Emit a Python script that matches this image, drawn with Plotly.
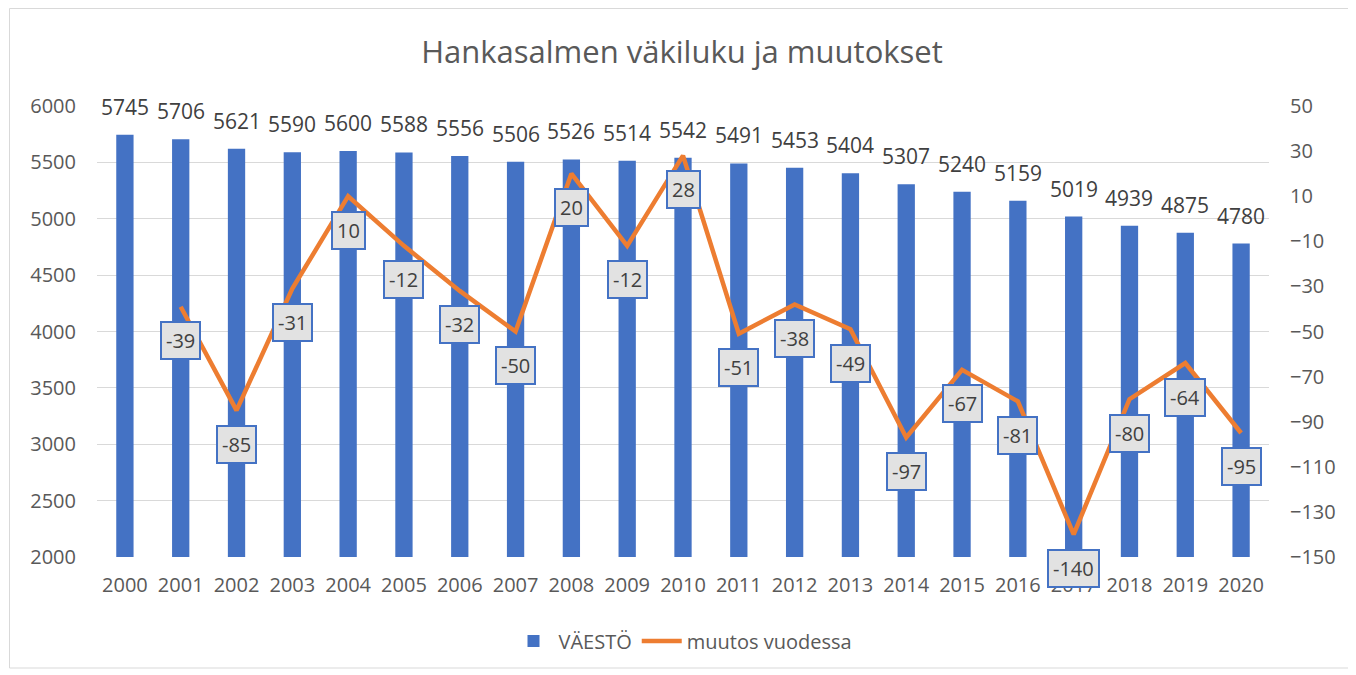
import plotly.graph_objects as go

years = list(range(2000, 2021))
population = [5745, 5706, 5621, 5590, 5600, 5588, 5556, 5506, 5526, 5514, 5542,
              5491, 5453, 5404, 5307, 5240, 5159, 5019, 4939, 4875, 4780]
change_years = years[1:]
change = [-39, -85, -31, 10, -12, -32, -50, 20, -12, 28,
          -51, -38, -49, -97, -67, -81, -140, -80, -64, -95]

left_ticks = [2000, 2500, 3000, 3500, 4000, 4500, 5000, 5500, 6000]
right_ticks = [50, 30, 10, -10, -30, -50, -70, -90, -110, -130, -150]

OFF = 8  # page body offset
W, H = 1356 - OFF, 675 - OFF
ML, MT = 97 - OFF, 106 - OFF
MR = W - (1269 - OFF)
MB = H - (557 - OFF)
pw, ph = W - ML - MR, H - MT - MB

FONT = "Open Sans"
GRAY = "#595959"

fig = go.Figure()
fig.add_trace(go.Bar(
    x=years, y=population, name="VÄESTÖ",
    marker=dict(color="#4472c4", line=dict(width=0)),
    yaxis="y",
))
fig.add_trace(go.Scatter(
    x=change_years, y=change, name="muutos vuodessa",
    mode="lines", line=dict(color="#ed7d31", width=4.5),
    yaxis="y2",
))

annotations = []
for x, v in zip(years, population):
    annotations.append(dict(
        x=x, y=v, xref="x", yref="y", text=str(v), showarrow=False,
        yanchor="bottom", yshift=12,
        font=dict(family=FONT, size=21, color="#404040"),
    ))
for x, v in zip(change_years, change):
    annotations.append(dict(
        x=x, y=v, xref="x", yref="y2", text=str(v), showarrow=False,
        yanchor="middle", yshift=-34,
        font=dict(family=FONT, size=20, color="#404040"),
        bgcolor="#e2e2e2", bordercolor="#4472c4", borderwidth=2, borderpad=4,
    ))

shapes = [dict(
    type="rect", xref="paper", yref="paper",
    x0=(1.5 - ML) / pw, x1=(1351 - OFF - ML) / pw,
    y0=(H - MB - (668 - OFF)) / ph, y1=(H - MB - 0.5) / ph,
    line=dict(color="#d9d9d9", width=1), fillcolor="rgba(0,0,0,0)", layer="below",
)]

fig.update_layout(
    width=W, height=H,
    margin=dict(l=ML, r=MR, t=MT, b=MB),
    paper_bgcolor="white", plot_bgcolor="white",
    title=dict(text="Hankasalmen väkiluku ja muutokset", x=0.5, xanchor="center",
               y=1 - (52 - OFF) / H, yanchor="middle",
               font=dict(family=FONT, size=31, color=GRAY)),
    bargap=0.69,
    xaxis=dict(range=[1999.5, 2020.5], tickvals=years,
               tickfont=dict(family=FONT, size=20, color=GRAY),
               showgrid=False, showline=False, zeroline=False, ticks="",
               ticklabelstandoff=14),
    yaxis=dict(range=[2000, 6000], tickvals=left_ticks,
               tickfont=dict(family=FONT, size=20, color=GRAY),
               showgrid=True, gridcolor="#d9d9d9", gridwidth=1,
               zeroline=False, showline=False, ticks="", ticklabelstandoff=20),
    yaxis2=dict(range=[-150, 50], tickvals=right_ticks, overlaying="y", side="right",
                tickfont=dict(family=FONT, size=20, color=GRAY),
                showgrid=False, zeroline=False, showline=False, ticks="",
                ticklabelstandoff=20),
    legend=dict(orientation="h", x=0.5, xanchor="center", y=(H - MB - (641 - OFF)) / ph,
                yanchor="middle", font=dict(family=FONT, size=20, color=GRAY),
                itemwidth=40, tracegroupgap=0),
    annotations=annotations,
    shapes=shapes,
)

fig.write_html("out.html", config={"displayModeBar": False})
